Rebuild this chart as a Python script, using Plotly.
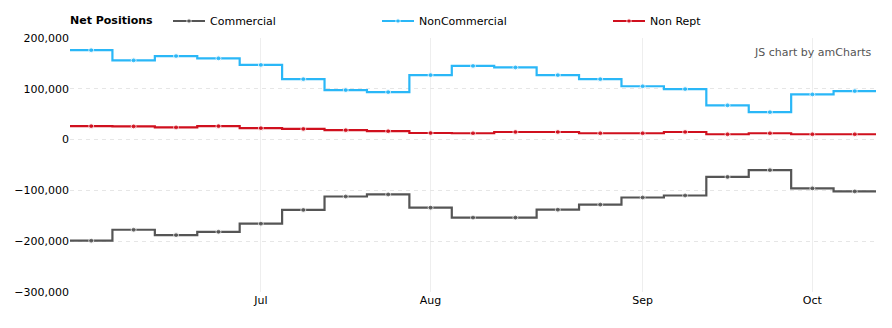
import plotly.graph_objects as go

# Weekly report dates (Tuesdays, 2017)
dates = ["2017-06-06", "2017-06-13", "2017-06-20", "2017-06-27", "2017-07-04",
         "2017-07-11", "2017-07-18", "2017-07-25", "2017-08-01", "2017-08-08",
         "2017-08-15", "2017-08-22", "2017-08-29", "2017-09-05", "2017-09-12",
         "2017-09-19", "2017-09-26", "2017-10-03", "2017-10-10"]

commercial = [-199000, -177500, -188000, -181500, -165500, -138500, -112000, -108000,
              -134000, -153500, -153500, -138000, -128000, -114000, -110000, -73500,
              -60000, -96000, -102000]
noncommercial = [176000, 156000, 164500, 160000, 147000, 119000, 97500, 93500,
                 127000, 145000, 142000, 127000, 119000, 105000, 99500, 67500,
                 54000, 89000, 95500]
nonrept = [26500, 26000, 24000, 26500, 22500, 21000, 18500, 16500,
           13000, 12500, 15000, 15000, 12500, 12500, 15000, 10500,
           12500, 10500, 10500]

series_names = ["Commercial", "NonCommercial", "Non Rept"]
series_colors = ["#555555", "#2ab7f7", "#d0101e"]

month_ticks = {"Jul": "2017-07", "Aug": "2017-08", "Sep": "2017-09", "Oct": "2017-10"}

n = len(dates)
idx = list(range(n))
# first report in each month carries the month label
tickvals, ticktext = [], []
for label, prefix in month_ticks.items():
    for i, d in enumerate(dates):
        if d.startswith(prefix):
            tickvals.append(i)
            ticktext.append(label)
            break

FONT = "DejaVu Sans"
PLOT_L, PLOT_R, PLOT_T, PLOT_B = 70, 876, 38, 292
PW, PH = PLOT_R - PLOT_L, PLOT_B - PLOT_T

def px_x(p):
    return (p - PLOT_L) / PW

def px_y(p):
    return (PLOT_B - p) / PH

legend_ids = ["legend", "legend2", "legend3"]
legend_px = [168, 377, 608]   # left edge of each legend entry (pixels)

fig = go.Figure()
for name, vals, col, lg in zip(series_names, [commercial, noncommercial, nonrept],
                               series_colors, legend_ids):
    xs = [-0.5] + idx + [n - 0.5]
    ys = [vals[0]] + vals + [vals[-1]]
    sizes = [0] + [5] * n + [0]
    fig.add_trace(go.Scatter(
        x=xs, y=ys, name=name, mode="lines+markers", legend=lg,
        line=dict(color=col, width=2.2, shape="hvh"),
        marker=dict(color=col, size=sizes, symbol="circle"),
        hoverinfo="skip",
    ))

legend_layout = {}
for lg, lx in zip(legend_ids, legend_px):
    legend_layout[lg] = dict(
        orientation="h", x=px_x(lx), xanchor="left", y=px_y(21), yanchor="middle",
        xref="paper", yref="paper", bgcolor="rgba(0,0,0,0)",
        font=dict(family=FONT, size=11, color="#000000"),
        itemwidth=32,
    )

fig.update_layout(
    width=892, height=328,
    margin=dict(l=PLOT_L, r=892 - PLOT_R, t=PLOT_T, b=328 - PLOT_B, autoexpand=False),
    paper_bgcolor="white", plot_bgcolor="white",
    font=dict(family=FONT, size=11, color="#000000"),
    showlegend=True,
    **legend_layout,
    xaxis=dict(
        range=[-0.5, n - 0.5], tickvals=tickvals, ticktext=ticktext,
        showgrid=True, gridcolor="#eeeeee", gridwidth=1,
        zeroline=False, showline=False, ticks="", ticklen=0,
        tickfont=dict(family=FONT, size=11, color="#000000"),
    ),
    yaxis=dict(
        range=[-300000, 200000], tickvals=[-300000, -200000, -100000, 0, 100000, 200000],
        tickformat=",d", showgrid=True, gridcolor="#e6e6e6", griddash="4px,4px",
        gridwidth=1, zeroline=False, showline=False, ticks="", ticklen=0,
        tickfont=dict(family=FONT, size=11, color="#000000"),
    ),
    annotations=[
        dict(text="<b>Net Positions</b>", xref="paper", yref="paper",
             x=0, y=px_y(21), xanchor="left", yanchor="middle", xshift=-2,
             showarrow=False, font=dict(family=FONT, size=11, color="#000000")),
        dict(text="JS chart by amCharts", xref="paper", yref="paper",
             x=1, y=px_y(52), xanchor="right", yanchor="middle", xshift=-3,
             showarrow=False, font=dict(family=FONT, size=11, color="#555555")),
    ],
)

fig.write_html("out.html")
